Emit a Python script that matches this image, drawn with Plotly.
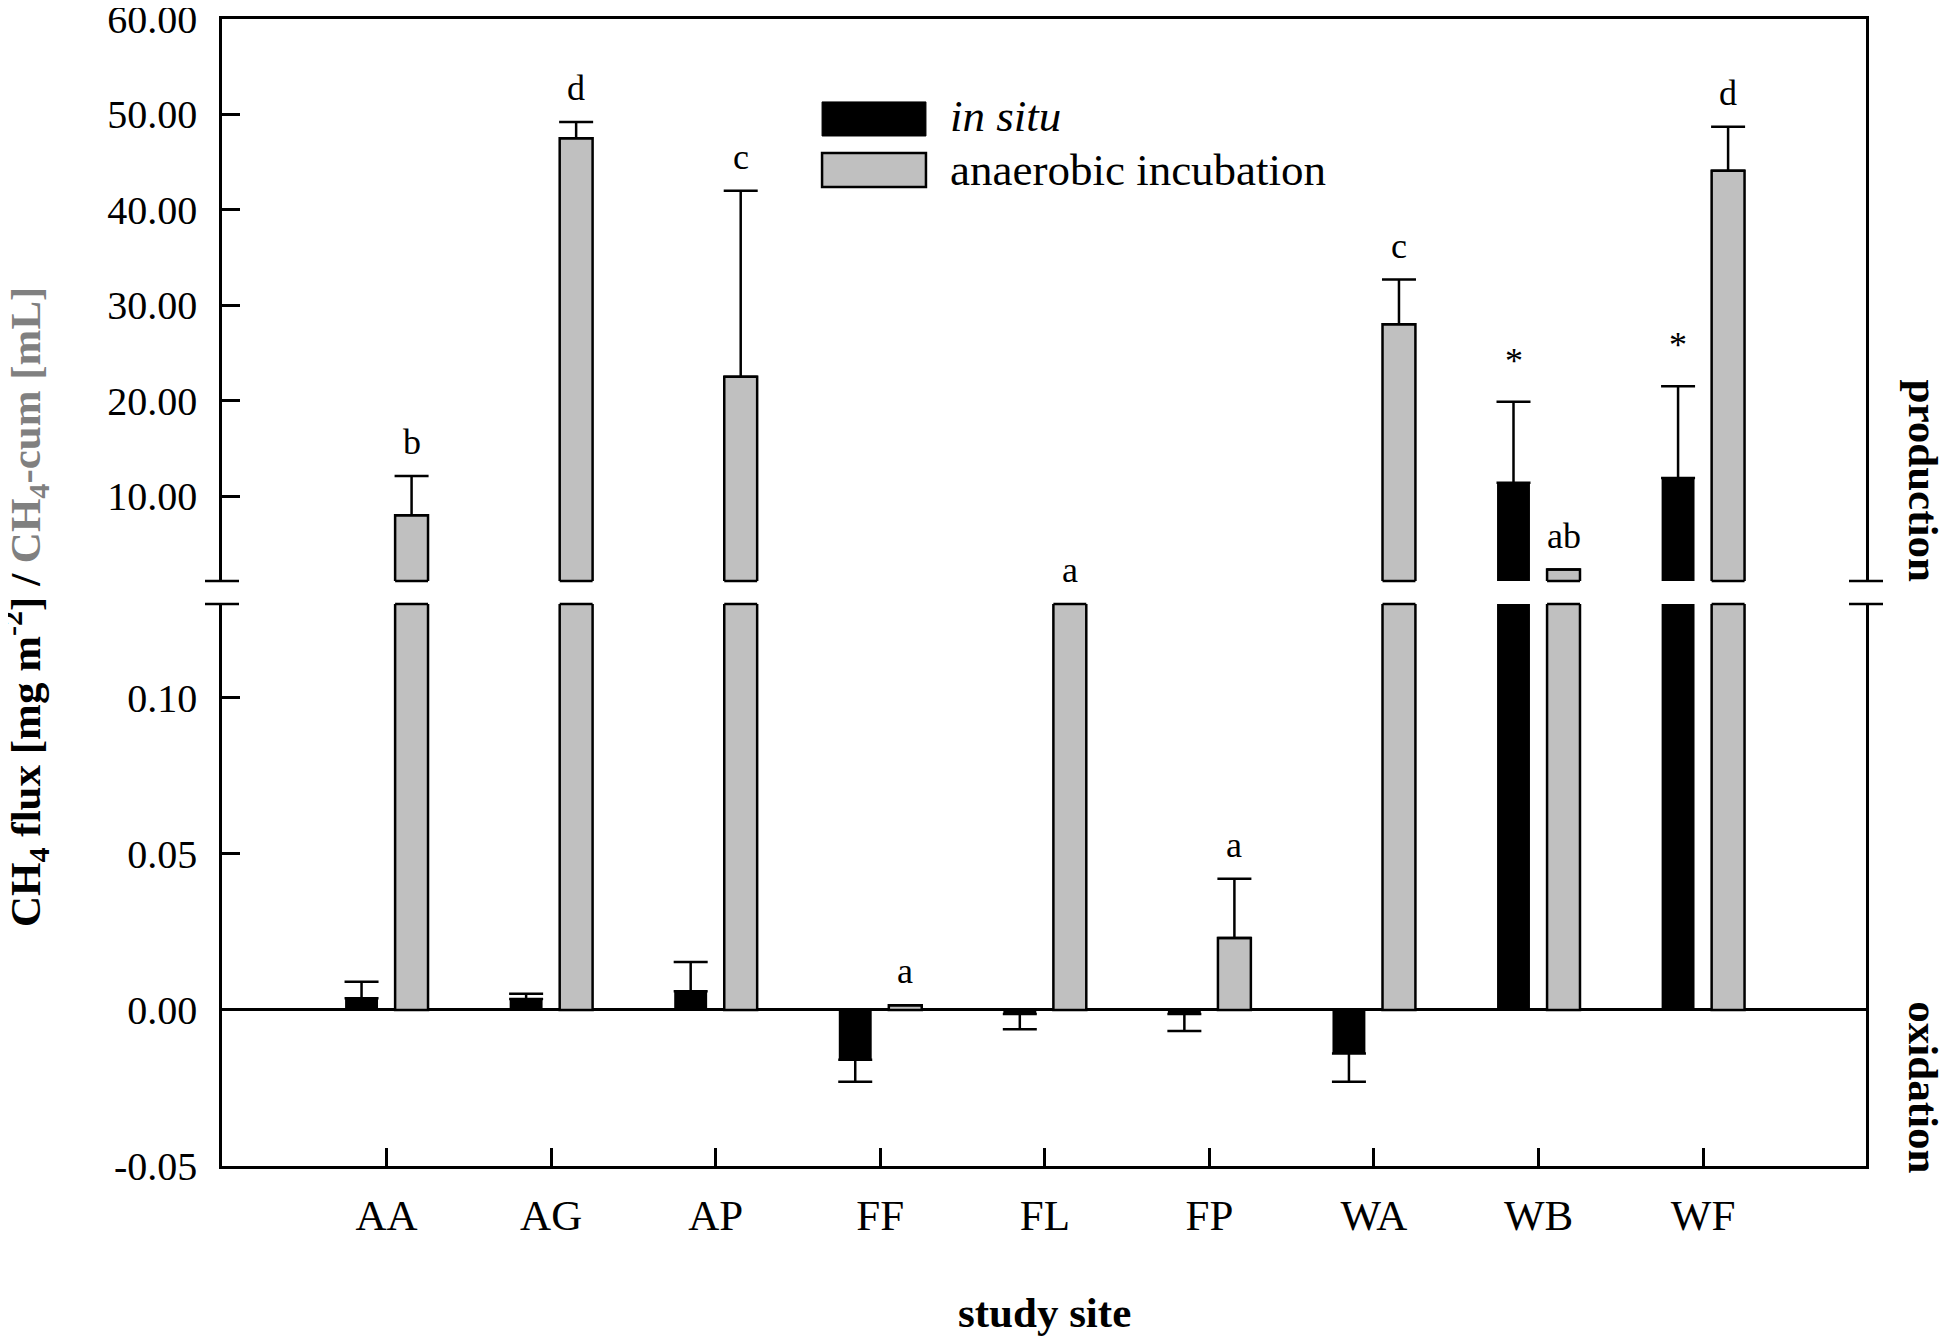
import plotly.graph_objects as go

# ---------------- data ----------------
categories = ["AA", "AG", "AP", "FF", "FL", "FP", "WA", "WB", "WF"]

# in situ CH4 flux [mg m-2]
in_situ = [0.0037, 0.0035, 0.0060, -0.0160, -0.0013, -0.0013, -0.0140, 11.4, 11.9]
in_situ_err = [0.0053, 0.0017, 0.0093, 0.0070, 0.0049, 0.0055, 0.0090, 8.5, 9.6]
in_situ_labels = ["", "", "", "", "", "", "", "*", "*"]

# anaerobic incubation CH4-cum [mL]
anaerobic = [8.0, 47.5, 22.5, 0.0015, 0.5, 0.023, 28.0, 2.3, 44.1]
anaerobic_err = [4.1, 1.7, 19.5, 0.0, 0.0, 0.019, 4.7, 0.0, 4.6]
anaerobic_labels = ["b", "d", "c", "a", "a", "a", "c", "ab", "d"]

lower_ticks = [-0.05, 0.0, 0.05, 0.10]
lower_ticktext = ["-0.05", "0.00", "0.05", "0.10"]
upper_ticks = [10, 20, 30, 40, 50, 60]
upper_ticktext = ["10.00", "20.00", "30.00", "40.00", "50.00", "60.00"]

LOWER_RANGE = [-0.05, 0.13]
UPPER_RANGE = [1.1, 60]

FONT = "Liberation Serif, Times New Roman, serif"
GRAY = "#c0c0c0"
LW = 2.5
BAR_W = 0.2


def err_parts(vals, errs):
    plus = [e if v >= 0 else 0 for v, e in zip(vals, errs)]
    minus = [e if v < 0 else 0 for v, e in zip(vals, errs)]
    return plus, minus


fig = go.Figure()
shapes = []

series = [
    (in_situ, in_situ_err, "black", 0, -0.252),
    (anaerobic, anaerobic_err, GRAY, LW, 0.052),
]
for vals, errs, color, lw, off in series:
    plus, minus = err_parts(vals, errs)
    for xa, ya in (("x", "y"), ("x2", "y2")):
        fig.add_trace(go.Bar(
            x=categories, y=vals, xaxis=xa, yaxis=ya,
            width=BAR_W, offset=off,
            marker=dict(color=color, line=dict(color="black", width=lw)),
            error_y=dict(type="data", symmetric=False, array=plus, arrayminus=minus,
                         color="black", thickness=LW, width=17),
            showlegend=False, hoverinfo="skip",
        ))
    # close the outlines of bars cut by the axis break
    if lw > 0:
        for i, v in enumerate(vals):
            if v > LOWER_RANGE[1]:
                shapes.append(dict(type="line", xref="x", x0=i + off, x1=i + off + BAR_W,
                                   yref="y domain", y0=1, y1=1,
                                   line=dict(color="black", width=lw)))
            if v > UPPER_RANGE[0]:
                shapes.append(dict(type="line", xref="x2", x0=i + off, x1=i + off + BAR_W,
                                   yref="y2 domain", y0=0, y1=0,
                                   line=dict(color="black", width=lw)))

# significance letters
annotations = []
for labels, vals, errs, xshift, yshift in ((anaerobic_labels, anaerobic, anaerobic_err, 25, 12),
                                            (in_situ_labels, in_situ, in_situ_err, -25, 19)):
    for i, (lab, v, e) in enumerate(zip(labels, vals, errs)):
        if not lab:
            continue
        top = v + e
        if top >= UPPER_RANGE[0]:
            xref, yref, yy = "x2", "y2", top
        else:
            xref, yref, yy = "x", "y", min(top, LOWER_RANGE[1])
        annotations.append(dict(
            x=i, y=yy, xref=xref, yref=yref, text=lab, showarrow=False,
            xshift=xshift, yshift=yshift, yanchor="bottom", xanchor="center",
            font=dict(family=FONT, size=36, color="black")))

# axis title (two colours)
annotations.append(dict(
    x=-0.1195, y=0.487, xref="paper", yref="paper", textangle=-90, showarrow=False,
    xanchor="center", yanchor="middle",
    text=("<b>CH<sub>4</sub> flux [mg m<sup>-2</sup>] / "
          "<span style='color:#808080'>CH<sub>4</sub>-cum [mL]</span></b>"),
    font=dict(family=FONT, size=43, color="black")))
annotations.append(dict(
    x=0.5, y=-0.128, xref="paper", yref="paper", showarrow=False,
    xanchor="center", yanchor="middle",
    text="<b>study site</b>", font=dict(family=FONT, size=43, color="black")))
annotations.append(dict(
    x=1.035, y=0.598, xref="paper", yref="paper", showarrow=False, textangle=90,
    xanchor="center", yanchor="middle",
    text="<b>production</b>", font=dict(family=FONT, size=43, color="black")))
annotations.append(dict(
    x=1.035, y=0.069, xref="paper", yref="paper", showarrow=False, textangle=90,
    xanchor="center", yanchor="middle",
    text="<b>oxidation</b>", font=dict(family=FONT, size=43, color="black")))

# custom legend
annotations.append(dict(
    x=0.4416, y=0.9154, xref="paper", yref="paper", showarrow=False,
    xanchor="left", yanchor="middle",
    text="<i>in situ</i>", font=dict(family=FONT, size=45, color="black")))
annotations.append(dict(
    x=0.4416, y=0.8684, xref="paper", yref="paper", showarrow=False,
    xanchor="left", yanchor="middle",
    text="anaerobic incubation", font=dict(family=FONT, size=45, color="black")))

shapes += [
    dict(type="rect", xref="paper", yref="paper", x0=0.3650, x1=0.4282, y0=0.8980, y1=0.9277,
         fillcolor="black", line=dict(color="black", width=1)),
    dict(type="rect", xref="paper", yref="paper", x0=0.3650, x1=0.4282, y0=0.8535, y1=0.8832,
         fillcolor=GRAY, line=dict(color="black", width=LW)),
]
# axis break marks
for xa in (0, 1):
    shapes.append(dict(type="line", xref="paper", xsizemode="pixel", xanchor=xa, x0=-17, x1=17,
                       yref="y2 domain", y0=0, y1=0, line=dict(color="black", width=LW)))
    shapes.append(dict(type="line", xref="paper", xsizemode="pixel", xanchor=xa, x0=-17, x1=17,
                       yref="y domain", y0=1, y1=1, line=dict(color="black", width=LW)))

axis_common = dict(showline=True, linecolor="black", linewidth=LW, showgrid=False,
                   ticks="inside", ticklen=18, tickwidth=LW, tickcolor="black",
                   automargin=False)

fig.update_layout(
    width=1955, height=1341,
    paper_bgcolor="white", plot_bgcolor="white",
    margin=dict(l=214, r=97, t=11, b=183),
    font=dict(family=FONT, color="black"),
    xaxis=dict(domain=[0, 1], anchor="y", range=[-1, 8.99], type="category",
               categoryorder="array", categoryarray=categories,
               tickfont=dict(family=FONT, size=43), ticklabelstandoff=10,
               zeroline=False, **axis_common),
    xaxis2=dict(domain=[0, 1], anchor="y2", matches="x", side="top", type="category",
                showline=True, linecolor="black", linewidth=LW, showgrid=False,
                ticks="", showticklabels=False, zeroline=False, automargin=False),
    yaxis=dict(domain=[0, 0.490], anchor="x", range=LOWER_RANGE, mirror=True,
               tickvals=lower_ticks, ticktext=lower_ticktext,
               tickfont=dict(family=FONT, size=40), ticklabelstandoff=14,
               ticklabeloverflow="allow",
               zeroline=True, zerolinecolor="black", zerolinewidth=LW, **axis_common),
    yaxis2=dict(domain=[0.510, 1], anchor="x2", range=UPPER_RANGE, mirror=True,
                tickvals=upper_ticks, ticktext=upper_ticktext,
                tickfont=dict(family=FONT, size=40), ticklabelstandoff=14,
                ticklabeloverflow="allow",
                zeroline=False, **axis_common),
    annotations=annotations,
    shapes=shapes,
    showlegend=False,
)

fig.write_html("out.html")
